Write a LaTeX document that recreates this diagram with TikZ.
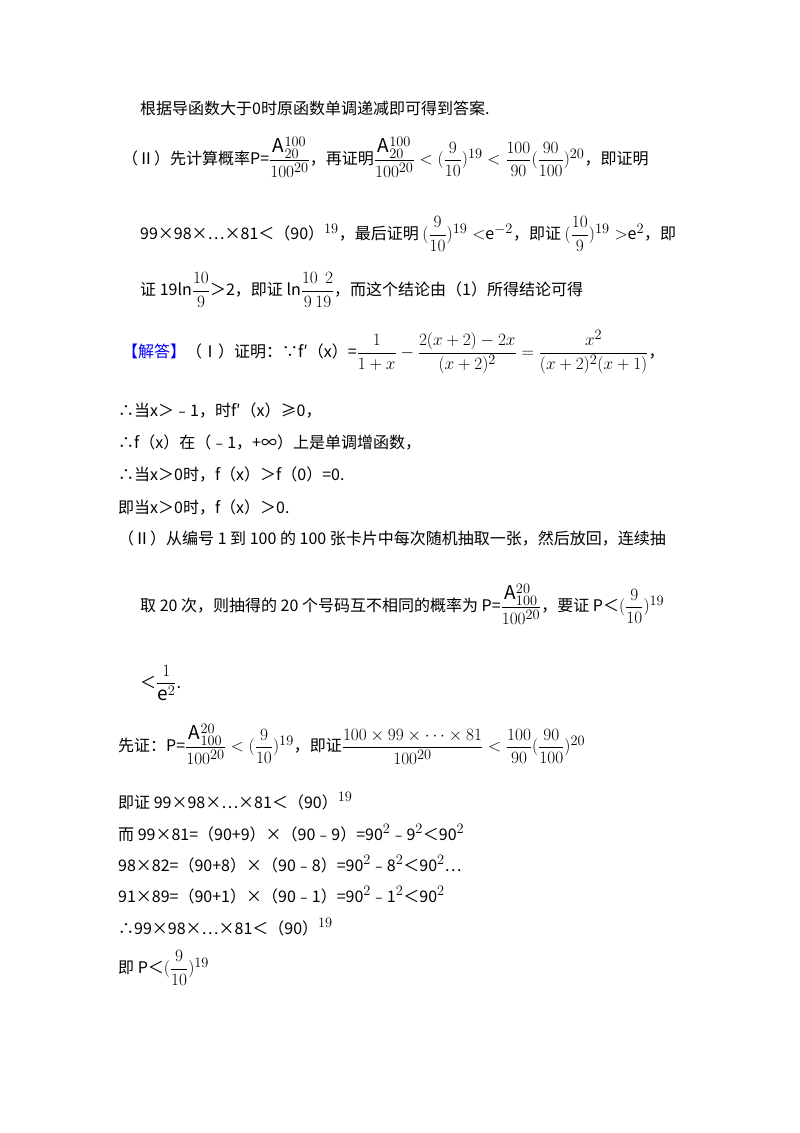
\documentclass[tikz,border=0pt]{standalone}
\usepackage{fontspec}
\setmainfont{Noto Sans CJK SC}
\usepackage{amsmath}
\DeclareMathSizes{16}{19}{14}{12}
\begin{document}
\begin{tikzpicture}[x=1pt,y=-1pt,every node/.style={anchor=west,inner sep=0pt,font=\fontsize{16}{19}\selectfont}]
\useasboundingbox (0,0) rectangle (800,1133);
\node (l1) at (140,108) {根据导函数大于0时原函数单调递减即可得到答案.};
\node (l2) at (122,157) {（Ⅱ）先计算概率P=$\dfrac{\mathrm{A}_{20}^{100}}{100^{20}}$，再证明$\dfrac{\mathrm{A}_{20}^{100}}{100^{20}}<(\dfrac{9}{10})^{19}<\dfrac{100}{90}(\dfrac{90}{100})^{20}$，即证明};
\node (l3) at (140,234) {99×98×…×81＜（90）$^{19}$，最后证明 $(\dfrac{9}{10})^{19}<$e$^{-2}$，即证 $(\dfrac{10}{9})^{19}>$e$^2$，即};
\node (l4) at (140,290) {证 19ln$\dfrac{10}{9}$＞2，即证 ln$\dfrac{10\ \ 2}{9\ 19}$，而这个结论由（1）所得结论可得};
\node (l5) at (122,352) {\textcolor{blue}{【解答】}（Ⅰ）证明：∵f′（x）=$\dfrac{1}{1+x}-\dfrac{2(x+2)-2x}{(x+2)^2}=\dfrac{x^2}{(x+2)^2(x+1)}$，};
\node (l6) at (118,411) {∴当x＞﹣1，时f′（x）≥0，};
\node (l7) at (118,443) {∴f（x）在（﹣1，+∞）上是单调增函数，};
\node (l8) at (118,475) {∴当x＞0时，f（x）＞f（0）=0.};
\node (l9) at (118,507) {即当x＞0时，f（x）＞0.};
\node (l10) at (118,538) {（Ⅱ）从编号 1 到 100 的 100 张卡片中每次随机抽取一张，然后放回，连续抽};
\node (l11) at (140,604) {取 20 次，则抽得的 20 个号码互不相同的概率为 P=$\dfrac{\mathrm{A}_{100}^{20}}{100^{20}}$，要证 P＜$(\dfrac{9}{10})^{19}$};
\node (l12) at (140,683) {＜$\dfrac{1}{\mathrm{e}^2}$.};
\node (l13) at (118,744) {先证：P=$\dfrac{\mathrm{A}_{100}^{20}}{100^{20}}<(\dfrac{9}{10})^{19}$，即证$\dfrac{100\times99\times\cdots\times81}{100^{20}}<\dfrac{100}{90}(\dfrac{90}{100})^{20}$};
\node (l14) at (118,801) {即证 99×98×…×81＜（90）$^{19}$};
\node (l15) at (118,833) {而 99×81=（90+9）×（90﹣9）=90$^2$﹣9$^2$＜90$^2$};
\node (l16) at (118,864) {98×82=（90+8）×（90﹣8）=90$^2$﹣8$^2$＜90$^2$…};
\node (l17) at (118,895) {91×89=（90+1）×（90﹣1）=90$^2$﹣1$^2$＜90$^2$};
\node (l18) at (118,927) {∴99×98×…×81＜（90）$^{19}$};
\node (l19) at (118,968) {即 P＜$(\dfrac{9}{10})^{19}$};
\end{tikzpicture}
\end{document}
